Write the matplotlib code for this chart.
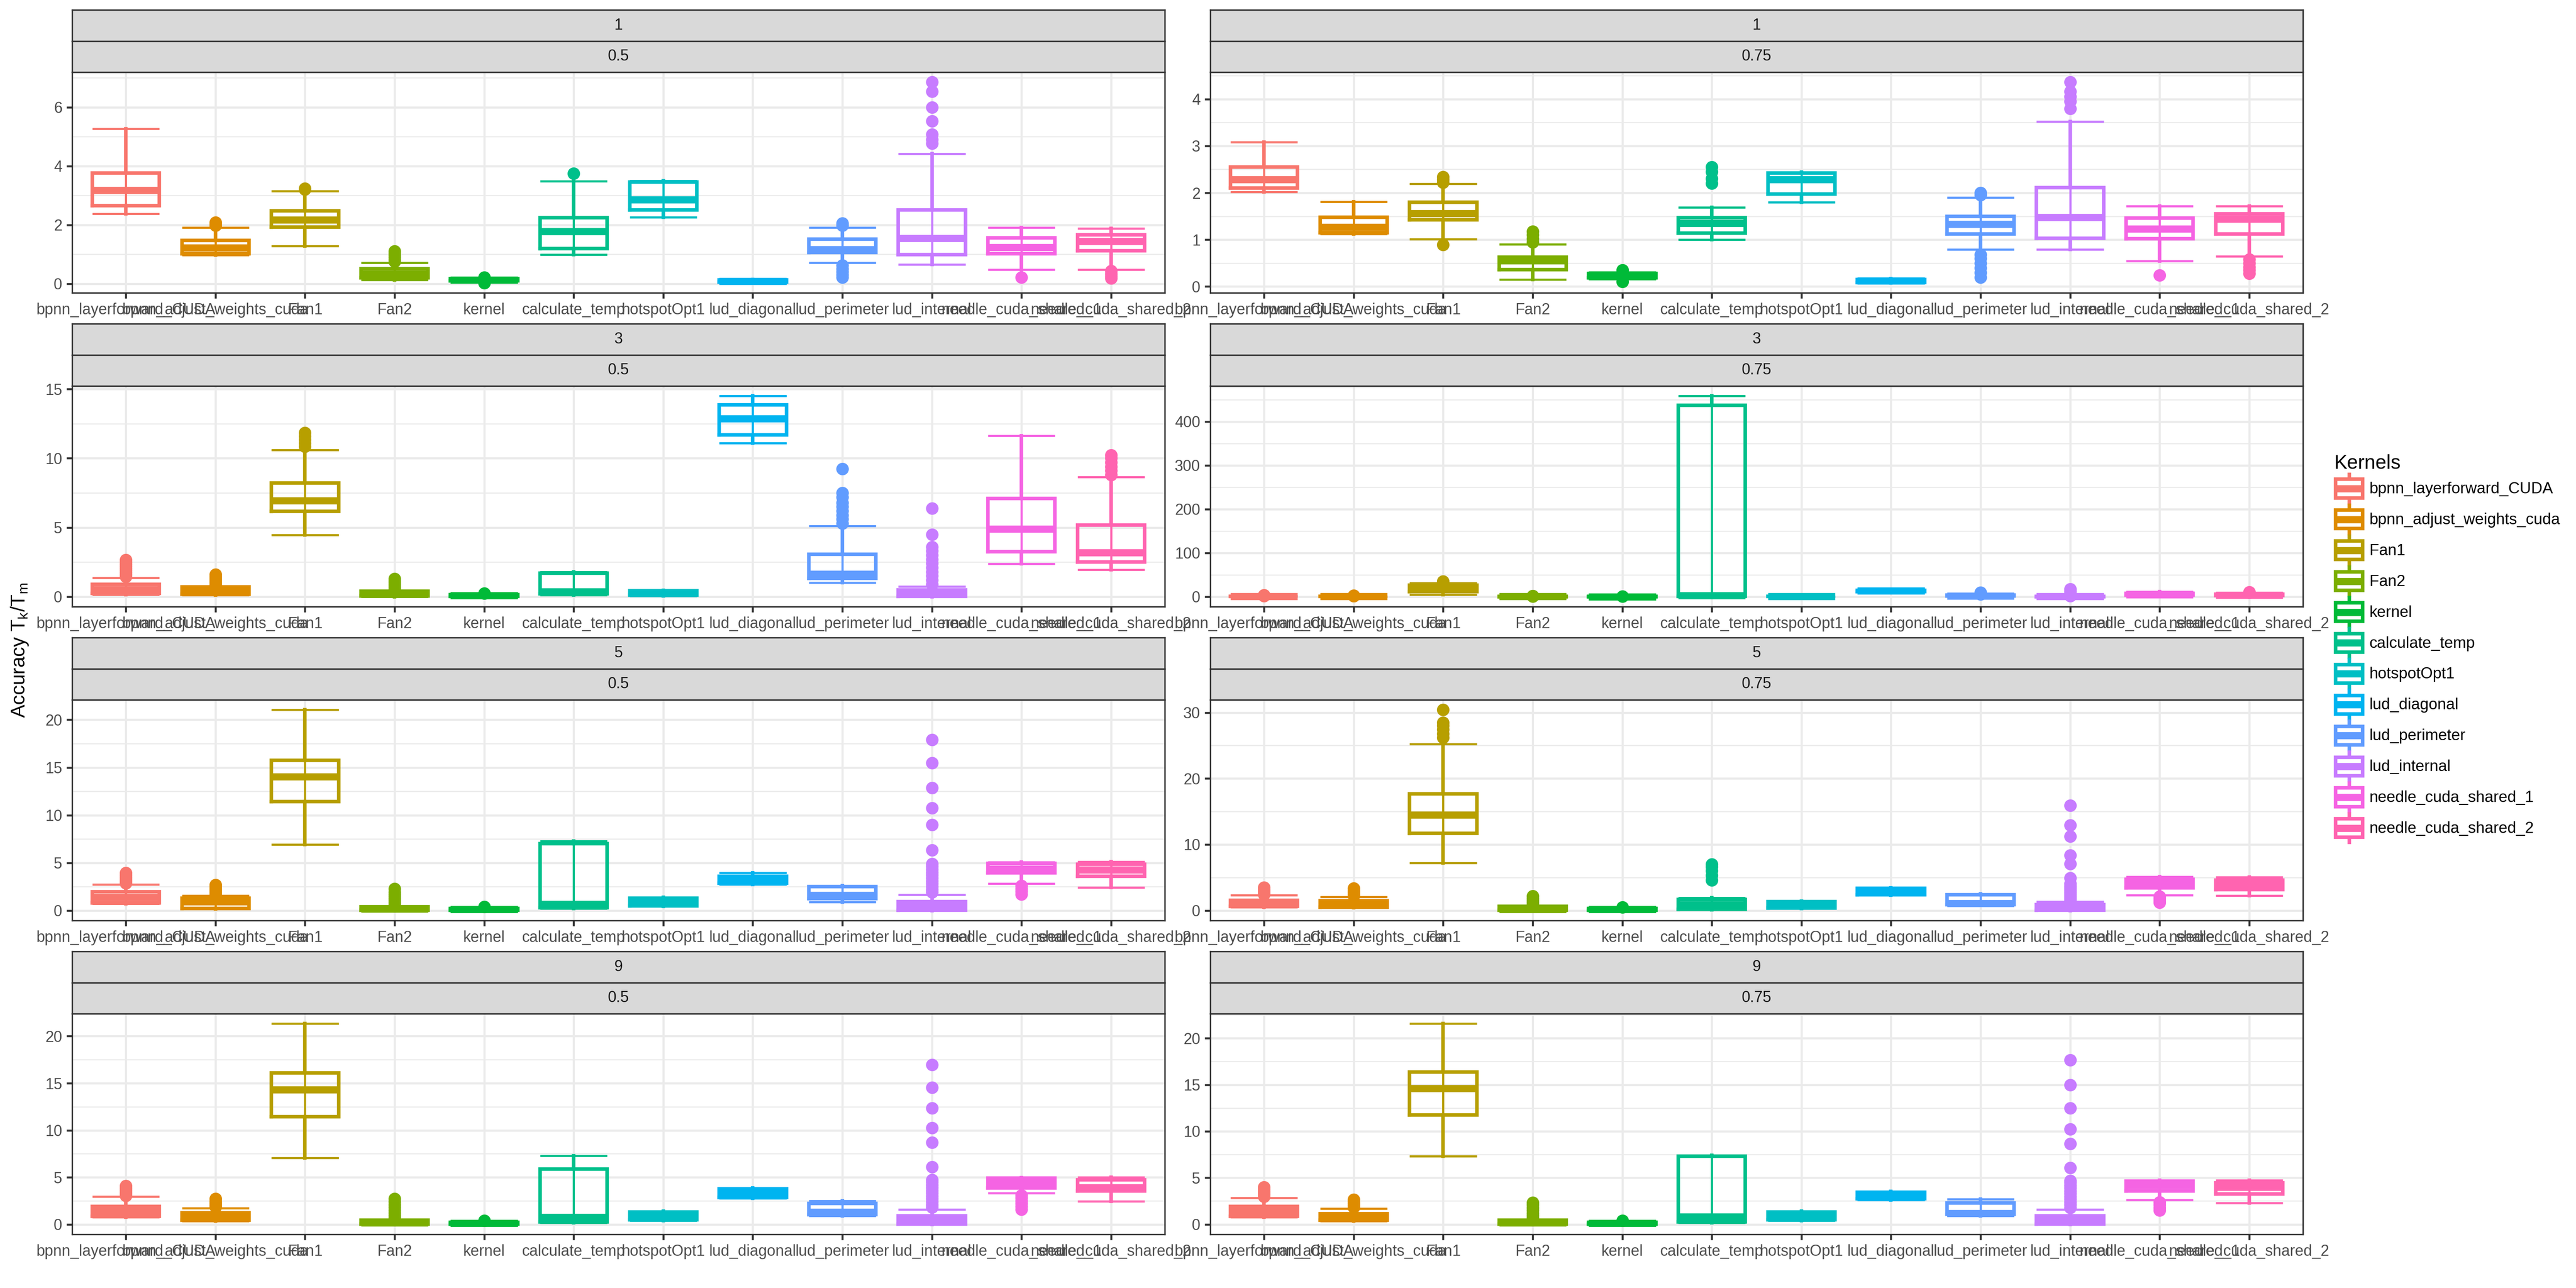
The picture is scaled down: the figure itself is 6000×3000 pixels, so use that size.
import matplotlib
matplotlib.use("Agg")
import matplotlib.pyplot as plt
from matplotlib.patches import Rectangle
from matplotlib.lines import Line2D
from matplotlib.legend_handler import HandlerBase
from matplotlib.ticker import MultipleLocator, FuncFormatter

plt.rcParams['font.family'] = ['Liberation Sans', 'DejaVu Sans']

kernels = ["bpnn_layerforward_CUDA", "bpnn_adjust_weights_cuda", "Fan1", "Fan2", "kernel",
           "calculate_temp", "hotspotOpt1", "lud_diagonal", "lud_perimeter", "lud_internal",
           "needle_cuda_shared_1", "needle_cuda_shared_2"]
colors = ["#F8766D", "#DE8C00", "#B79F00", "#7CAE00", "#00BA38", "#00C08B",
          "#00BFC4", "#00B4F0", "#619CFF", "#C77CFF", "#F564E3", "#FF64B0"]

# [lower whisker, q1, median, q3, upper whisker] per kernel, plus outliers
s_1_050 = [[2.38, 2.65, 3.17, 3.76, 5.27], [0.97, 1.02, 1.22, 1.47, 1.91], [1.28, 1.92, 2.17, 2.48, 3.15],
           [0.12, 0.2, 0.33, 0.5, 0.71], [0.08, 0.1, 0.13, 0.17, 0.2], [0.99, 1.19, 1.78, 2.24, 3.49],
           [2.26, 2.51, 2.86, 3.45, 3.5], [0.04, 0.06, 0.09, 0.12, 0.14], [0.71, 1.06, 1.17, 1.51, 1.91],
           [0.65, 0.99, 1.54, 2.51, 4.42], [0.48, 1.02, 1.23, 1.56, 1.91], [0.48, 1.125, 1.44, 1.66, 1.875]]
o_1_050 = [[], [1.98, 2.03, 2.08], [3.2, 3.24], [0.76, 0.82, 0.9, 0.98, 1.05, 1.1], [0.03, 0.22], [3.75],
           [], [], [1.98, 2.06, 0.62, 0.5, 0.4, 0.3, 0.22], [4.77, 4.9, 5.08, 5.53, 5.99, 6.54, 6.85],
           [0.22], [0.43, 0.33, 0.25, 0.19]]

s_1_075 = [[2.02, 2.1, 2.28, 2.55, 3.08], [1.12, 1.15, 1.27, 1.48, 1.81], [1.01, 1.42, 1.56, 1.8, 2.19],
           [0.15, 0.36, 0.55, 0.63, 0.9], [0.16, 0.19, 0.23, 0.28, 0.31], [1.0, 1.14, 1.35, 1.47, 1.69],
           [1.8, 1.97, 2.28, 2.42, 2.44], [0.08, 0.09, 0.12, 0.15, 0.17], [0.79, 1.12, 1.33, 1.5, 1.9],
           [0.79, 1.03, 1.48, 2.11, 3.52], [0.54, 1.02, 1.23, 1.46, 1.72], [0.64, 1.12, 1.44, 1.55, 1.72]]
o_1_075 = [[], [], [2.22, 2.28, 2.34, 0.89], [0.95, 1.02, 1.1, 1.18], [0.1, 0.35], [2.2, 2.3, 2.45, 2.55],
           [], [], [1.95, 2.0, 0.68, 0.6, 0.5, 0.4, 0.3, 0.2], [3.8, 3.95, 4.05, 4.16, 4.36],
           [0.24], [0.58, 0.5, 0.42, 0.35, 0.28]]

s_3_050 = [[0.15, 0.25, 0.53, 0.88, 1.34], [0.12, 0.18, 0.42, 0.7, 0.78], [4.45, 6.16, 6.95, 8.2, 10.6],
           [0.0, 0.05, 0.2, 0.4, 0.45], [0.0, 0.03, 0.08, 0.14, 0.2], [0.1, 0.2, 0.36, 1.68, 1.8],
           [0.05, 0.1, 0.25, 0.42, 0.45], [11.1, 11.68, 12.88, 13.86, 14.5], [1.0, 1.32, 1.63, 3.07, 5.1],
           [0.0, 0.02, 0.25, 0.5, 0.73], [2.38, 3.26, 4.89, 7.1, 11.62], [1.93, 2.5, 3.18, 5.17, 8.64]]
o_3_050 = [[1.45, 1.6, 1.75, 1.9, 2.05, 2.2, 2.35, 2.5, 2.65], [0.85, 1.0, 1.15, 1.3, 1.45, 1.6],
           [10.85, 11.1, 11.35, 11.6, 11.85], [0.55, 0.7, 0.85, 1.0, 1.15, 1.3], [0.25], [], [], [],
           [5.3, 5.6, 5.9, 6.2, 6.5, 6.8, 7.2, 7.5, 9.25],
           [0.9, 1.2, 1.5, 1.8, 2.1, 2.4, 2.7, 3.0, 3.3, 3.6, 4.5, 6.38], [], [8.8, 9.1, 9.4, 9.7, 10.0, 10.24]]

s_3_075 = [[0.15, 0.3, 0.6, 1.0, 1.6], [0.1, 0.2, 0.45, 0.75, 0.9], [5.0, 11.0, 16.0, 26.0, 31.0],
           [0.0, 0.05, 0.2, 0.4, 0.5], [0.02, 0.05, 0.1, 0.15, 0.2], [0.3, 0.6, 3.0, 437.0, 458.0],
           [0.1, 0.2, 0.3, 0.45, 0.5], [11.1, 11.7, 12.9, 13.9, 14.5], [1.0, 1.3, 1.6, 3.1, 5.1],
           [0.0, 0.02, 0.25, 0.5, 0.75], [2.4, 3.3, 4.9, 7.1, 11.6], [1.9, 2.5, 3.2, 5.2, 8.6]]
o_3_075 = [[2.0, 2.5, 3.0, 4.0], [1.2, 1.6, 2.2], [33.0, 35.0], [0.8, 1.3, 2.0], [0.3], [], [], [],
           [6.0, 7.5, 9.2], [1.5, 3.0, 4.5, 6.4, 12.0, 17.0], [], [9.0, 10.2]]

s_5_050 = [[0.7, 0.79, 1.4, 1.96, 2.71], [0.15, 0.19, 0.95, 1.27, 1.56], [6.93, 11.42, 14.05, 15.75, 21.04],
           [0.0, 0.03, 0.15, 0.4, 0.5], [0.0, 0.03, 0.1, 0.2, 0.3], [0.2, 0.3, 0.65, 7.0, 7.3],
           [0.43, 0.5, 0.9, 1.3, 1.36], [2.75, 2.85, 3.4, 3.6, 3.96], [0.88, 1.25, 1.6, 2.5, 2.6],
           [0.0, 0.02, 0.45, 0.92, 1.67], [2.84, 3.95, 4.35, 4.95, 5.08], [2.4, 3.59, 4.28, 4.84, 5.11]]
o_5_050 = [[2.85, 3.0, 3.15, 3.3, 3.5, 3.7, 3.96], [1.7, 1.9, 2.1, 2.3, 2.5, 2.68], [],
           [0.7, 0.9, 1.1, 1.3, 1.5, 1.7, 1.9, 2.3], [0.4], [], [], [], [],
           [1.9, 2.2, 2.5, 2.8, 3.1, 3.4, 3.7, 4.0, 4.3, 4.6, 4.9, 6.32, 8.97, 10.75, 12.86, 15.46, 17.9],
           [2.6, 2.3, 2.0, 1.7], []]

s_5_075 = [[0.5, 0.65, 1.1, 1.55, 2.29], [0.4, 0.5, 1.0, 1.5, 2.06], [7.2, 11.7, 14.5, 17.7, 25.2],
           [0.0, 0.03, 0.2, 0.6, 0.7], [0.0, 0.05, 0.15, 0.3, 0.4], [0.1, 0.2, 0.9, 1.7, 1.9],
           [0.3, 0.35, 0.9, 1.35, 1.43], [2.3, 2.4, 2.9, 3.35, 3.45], [0.8, 0.9, 1.1, 2.4, 2.5],
           [0.0, 0.02, 0.4, 0.9, 1.37], [2.29, 3.4, 4.1, 4.7, 5.14], [2.25, 3.15, 3.9, 4.6, 5.07]]
o_5_075 = [[2.45, 2.65, 2.85, 3.05, 3.25, 3.5], [2.25, 2.5, 2.75, 3.0, 3.35], [26.2, 26.8, 27.4, 28.0, 28.5, 30.4],
           [0.9, 1.2, 1.5, 1.8, 2.2], [0.5], [4.6, 5.3, 6.0, 6.6, 7.0], [], [], [],
           [1.6, 1.9, 2.2, 2.5, 2.8, 3.1, 3.4, 3.7, 4.1, 4.9, 7.1, 8.4, 11.2, 12.9, 15.9],
           [2.1, 1.8, 1.5, 1.2], []]

s_9_050 = [[0.75, 0.85, 1.4, 1.9, 2.93], [0.35, 0.45, 0.9, 1.2, 1.7], [7.06, 11.46, 14.3, 16.1, 21.33],
           [0.0, 0.03, 0.15, 0.45, 0.5], [0.0, 0.05, 0.1, 0.2, 0.3], [0.15, 0.25, 0.75, 5.85, 7.3],
           [0.39, 0.5, 0.9, 1.3, 1.41], [2.76, 2.86, 3.3, 3.75, 3.85], [0.88, 1.05, 1.3, 2.2, 2.5],
           [0.0, 0.02, 0.4, 0.88, 1.58], [3.33, 3.85, 4.4, 4.9, 4.96], [2.44, 3.55, 3.89, 4.75, 5.02]]
o_9_050 = [[3.05, 3.25, 3.45, 3.65, 3.85, 4.1], [1.85, 2.05, 2.25, 2.45, 2.7], [],
           [0.7, 0.95, 1.2, 1.5, 1.8, 2.1, 2.4, 2.7], [0.4], [], [], [], [],
           [1.8, 2.1, 2.4, 2.7, 3.0, 3.3, 3.6, 3.9, 4.2, 4.5, 4.75, 6.08, 8.68, 10.24, 12.34, 14.54, 16.98],
           [3.1, 2.8, 2.5, 2.2, 1.9, 1.6], []]

s_9_075 = [[0.75, 0.85, 1.4, 1.9, 2.86], [0.35, 0.45, 0.85, 1.15, 1.68], [7.31, 11.73, 14.6, 16.38, 21.56],
           [0.0, 0.03, 0.15, 0.45, 0.5], [0.0, 0.05, 0.1, 0.2, 0.3], [0.15, 0.25, 0.8, 7.3, 7.43],
           [0.39, 0.5, 0.9, 1.3, 1.4], [2.63, 2.73, 3.1, 3.45, 3.53], [0.89, 1.1, 1.18, 2.3, 2.71],
           [0.0, 0.02, 0.4, 0.9, 1.59], [2.61, 3.6, 4.2, 4.65, 4.75], [2.28, 3.28, 4.0, 4.45, 4.75]]
o_9_075 = [[3.0, 3.2, 3.4, 3.6, 3.8, 3.98], [1.85, 2.05, 2.25, 2.45, 2.66], [],
           [0.7, 0.95, 1.2, 1.5, 1.8, 2.1, 2.33], [0.4], [], [], [], [],
           [1.8, 2.1, 2.4, 2.7, 3.0, 3.3, 3.6, 3.9, 4.2, 4.5, 4.7, 6.06, 8.66, 10.22, 12.49, 14.99, 17.65],
           [2.4, 2.1, 1.8, 1.5], []]

facet_a = ["1", "1", "3", "3", "5", "5", "9", "9"]
facet_b = ["0.5", "0.75", "0.5", "0.75", "0.5", "0.75", "0.5", "0.75"]
stats_list = [s_1_050, s_1_075, s_3_050, s_3_075, s_5_050, s_5_075, s_9_050, s_9_075]
outl_list = [o_1_050, o_1_075, o_3_050, o_3_075, o_5_050, o_5_075, o_9_050, o_9_075]
y_steps = [2, 1, 5, 100, 5, 10, 5, 5]

# layout in pixels of the 6000x3000 canvas
W, H = 6000.0, 3000.0
col_x = [168, 2819]
col_w = 2545
row_pitch = 731

fig = plt.figure(figsize=(20, 10), dpi=300)

lw_box = 2.0
lw_thin = 1.2
pos = list(range(1, 13))

for i in range(8):
    r, c = i // 2, i % 2
    top = 168 + r * row_pitch
    bot = 682 + r * row_pitch
    ax = fig.add_axes([col_x[c] / W, 1 - bot / H, col_w / W, (bot - top) / H])

    st = stats_list[i]
    bx = [dict(whislo=s[0], q1=s[1], med=s[2], q3=s[3], whishi=s[4], fliers=outl_list[i][k])
          for k, s in enumerate(st)]
    # errorbar line from whisker to whisker (through the box)
    ax.vlines(pos, [s[0] for s in st], [s[4] for s in st], colors=colors, lw=lw_thin, zorder=2)
    res = ax.bxp(bx, positions=pos, widths=0.75, capwidths=0.75, manage_ticks=False,
                 boxprops=dict(lw=lw_box, solid_joinstyle='miter'),
                 whiskerprops=dict(lw=lw_box),
                 capprops=dict(lw=lw_thin, solid_capstyle='butt'),
                 medianprops=dict(lw=2 * lw_box, solid_capstyle='butt'),
                 flierprops=dict(marker='o', markersize=7, markeredgewidth=0, linestyle='none'))
    for k in range(12):
        col = colors[k]
        res['boxes'][k].set_color(col)
        res['medians'][k].set_color(col)
        for j in (2 * k, 2 * k + 1):
            res['whiskers'][j].set_color(col)
            res['caps'][j].set_color(col)
        res['fliers'][k].set_markerfacecolor(col)
        res['fliers'][k].set_markeredgecolor(col)
        for a in (res['boxes'][k], res['medians'][k]):
            a.set_zorder(3)

    # ggplot-style 5% expansion
    vals = [v for s in st for v in s] + [v for o in outl_list[i] for v in o]
    lo, hi = min(vals), max(vals)
    ax.set_ylim(lo - 0.05 * (hi - lo), hi + 0.05 * (hi - lo))
    ax.set_xlim(0.4, 12.6)

    ax.set_xticks(pos)
    ax.set_xticklabels(kernels)
    ax.yaxis.set_major_locator(MultipleLocator(y_steps[i]))
    ax.yaxis.set_minor_locator(MultipleLocator(y_steps[i] / 2))
    ax.yaxis.set_major_formatter(FuncFormatter(lambda v, p: f"{v:g}"))
    ax.tick_params(which='major', length=3.2, width=1.1, color='#333333', labelsize=8.6,
                   labelcolor='#4D4D4D', pad=2.4)
    ax.tick_params(which='minor', length=0)
    ax.set_axisbelow(True)
    ax.grid(which='major', color='#EBEBEB', lw=1.2)
    ax.grid(which='minor', axis='y', color='#EBEBEB', lw=0.6)
    for sp in ax.spines.values():
        sp.set_color('#333333')
        sp.set_linewidth(0.8)

    # two strips on top of each panel
    for j, lab in enumerate([facet_a[i], facet_b[i]]):
        s_top = 23 + r * row_pitch + j * 72.5
        sax = fig.add_axes([col_x[c] / W, 1 - (s_top + 72.5) / H, col_w / W, 72.5 / H])
        sax.set_facecolor('#D9D9D9')
        sax.set_xticks([])
        sax.set_yticks([])
        for sp in sax.spines.values():
            sp.set_color('#333333')
            sp.set_linewidth(0.8)
        sax.text(0.5, 0.5, lab, ha='center', va='center', fontsize=8.6, color='#1A1A1A',
                 transform=sax.transAxes)

fig.text(46 / W, 0.495, r'Accuracy $\mathregular{T_k/T_m}$', rotation=90, ha='center', va='center',
         fontsize=11, color='black')


class BoxKey(HandlerBase):
    def create_artists(self, legend, orig_handle, xdescent, ydescent, width, height, fontsize, trans):
        col = orig_handle.get_color()
        x0, y0 = -xdescent, -ydescent
        xm = x0 + width / 2
        wt = Line2D([xm, xm], [y0 + 0.8 * height, y0 + 0.96 * height], color=col, lw=lw_box, transform=trans)
        wb = Line2D([xm, xm], [y0 + 0.04 * height, y0 + 0.2 * height], color=col, lw=lw_box, transform=trans)
        rect = Rectangle((x0 + 0.06 * width, y0 + 0.2 * height), 0.88 * width, 0.6 * height,
                         facecolor='white', edgecolor=col, lw=lw_box, transform=trans)
        med = Line2D([x0 + 0.06 * width, x0 + 0.94 * width], [y0 + 0.5 * height] * 2, color=col,
                     lw=2 * lw_box, solid_capstyle='butt', transform=trans)
        return [wt, wb, rect, med]


handles = [Line2D([], [], color=c) for c in colors]
leg = fig.legend(handles, kernels, handler_map={Line2D: BoxKey()}, title='Kernels',
                 loc='upper left', bbox_to_anchor=(5436 / W, 1 - 1058 / H), frameon=False,
                 fontsize=8.8, title_fontsize=11, handlelength=1.95, handleheight=2.64,
                 labelspacing=0.0, handletextpad=0.3, borderpad=0.0, borderaxespad=0.0)
leg._legend_box.align = 'left'

fig.savefig('out.png', dpi=300, facecolor='white')
